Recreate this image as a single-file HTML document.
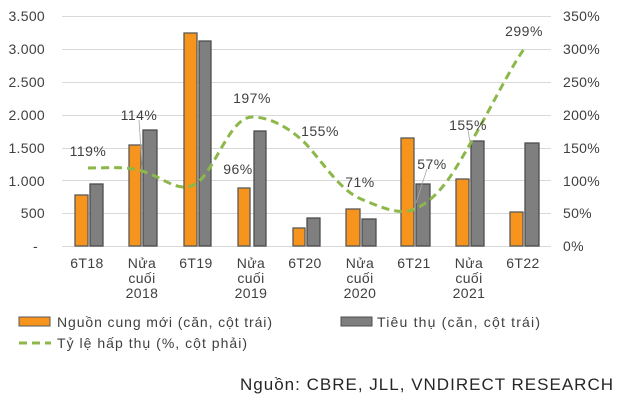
<!DOCTYPE html>
<html><head><meta charset="utf-8"><style>
html,body{margin:0;padding:0;background:#fff;}
svg{display:block;font-family:"Liberation Sans",Arial,sans-serif;}
</style></head><body>
<svg width="628" height="403" viewBox="0 0 628 403" xmlns="http://www.w3.org/2000/svg">
<g stroke="#d9d9d9" stroke-width="1">
<line x1="62" x2="551" y1="16.5" y2="16.5"/><line x1="62" x2="551" y1="49.5" y2="49.5"/>
<line x1="62" x2="551" y1="82.5" y2="82.5"/><line x1="62" x2="551" y1="115.5" y2="115.5"/>
<line x1="62" x2="551" y1="148.5" y2="148.5"/><line x1="62" x2="551" y1="180.5" y2="180.5"/>
<line x1="62" x2="551" y1="213.5" y2="213.5"/><line x1="62" x2="551" y1="246.5" y2="246.5"/>
</g>
<g font-size="14" fill="#404040" text-anchor="end" letter-spacing="0.3">
<text x="45" y="21">3.500</text><text x="45" y="54">3.000</text><text x="45" y="87">2.500</text>
<text x="45" y="120">2.000</text><text x="45" y="153">1.500</text><text x="45" y="186">1.000</text>
<text x="45" y="218">500</text><text x="38" y="251">-</text>
</g>
<g font-size="14" fill="#404040" text-anchor="start" letter-spacing="0.3">
<text x="563" y="21">350%</text><text x="563" y="54">300%</text><text x="563" y="87">250%</text>
<text x="563" y="120">200%</text><text x="563" y="153">150%</text><text x="563" y="186">100%</text>
<text x="563" y="218">50%</text><text x="563" y="251">0%</text>
</g>
<g fill="#f7941d" stroke="#595959" stroke-width="1.3">
<rect x="75" y="195" width="13" height="51"/><rect x="129" y="145" width="12" height="101"/>
<rect x="184" y="33" width="13" height="213"/><rect x="238" y="188" width="12" height="58"/>
<rect x="293" y="228" width="12" height="18"/><rect x="346" y="209" width="14" height="37"/>
<rect x="401" y="138" width="13" height="108"/><rect x="456" y="179" width="13" height="67"/>
<rect x="510" y="212" width="13" height="34"/>
</g>
<g fill="#7f7f7f" stroke="#4d4d4d" stroke-width="1.3">
<rect x="90" y="184" width="13" height="62"/><rect x="143" y="130" width="14" height="116"/>
<rect x="199" y="41" width="12" height="205"/><rect x="254" y="131" width="12" height="115"/>
<rect x="307" y="218" width="13" height="28"/><rect x="362" y="219" width="14" height="27"/>
<rect x="416" y="184" width="14" height="62"/><rect x="471" y="141" width="13" height="105"/>
<rect x="525" y="143" width="14" height="103"/>
</g>
<path d="M88,168 C110,168 125,166 142,171 C165,178 180,195 197,183 C215,170 230,117 252,117 C272,117 292,130 306,144 C325,165 340,190 361,199 C380,207 400,216 415,209 C440,198 455,170 470,144 C490,110 508,72 524,49" fill="none" stroke="#8cb84a" stroke-width="3" stroke-dasharray="8,5"/>
<g stroke="#a6a6a6" stroke-width="0.8">
<line x1="139" y1="120" x2="142" y2="165"/><line x1="427" y1="169" x2="416" y2="203"/><line x1="468" y1="130" x2="470" y2="142"/>
</g>
<g font-size="14" fill="#404040" text-anchor="middle" letter-spacing="0.5">
<text x="88" y="156">119%</text><text x="139" y="120">114%</text><text x="252" y="103">197%</text>
<text x="238" y="174">96%</text><text x="320" y="136">155%</text><text x="360" y="187">71%</text>
<text x="432" y="169">57%</text><text x="468" y="130">155%</text><text x="524" y="36">299%</text>
</g>
<g font-size="14" fill="#404040" text-anchor="middle" letter-spacing="0.4">
<text x="87" y="268">6T18</text>
<text x="142" y="268">Nửa</text><text x="142" y="283">cuối</text><text x="142" y="298">2018</text>
<text x="196" y="268">6T19</text>
<text x="251" y="268">Nửa</text><text x="251" y="283">cuối</text><text x="251" y="298">2019</text>
<text x="305" y="268">6T20</text>
<text x="360" y="268">Nửa</text><text x="360" y="283">cuối</text><text x="360" y="298">2020</text>
<text x="414" y="268">6T21</text>
<text x="469" y="268">Nửa</text><text x="469" y="283">cuối</text><text x="469" y="298">2021</text>
<text x="523" y="268">6T22</text>
</g>
<rect x="19" y="317" width="31" height="9" fill="#f7941d" stroke="#595959" stroke-width="1"/>
<text x="57" y="327" font-size="14" fill="#404040" textLength="215" lengthAdjust="spacing">Nguồn cung mới (căn, cột trái)</text>
<rect x="341" y="317" width="31" height="9" fill="#7f7f7f" stroke="#4d4d4d" stroke-width="1"/>
<text x="377" y="327" font-size="14" fill="#404040" textLength="163" lengthAdjust="spacing">Tiêu thụ (căn, cột trái)</text>
<line x1="19" y1="343" x2="51" y2="343" stroke="#8cb84a" stroke-width="3" stroke-dasharray="8,5"/>
<text x="57" y="348" font-size="14" fill="#404040" textLength="190" lengthAdjust="spacing">Tỷ lệ hấp thụ (%, cột phải)</text>
<text x="240" y="390" font-size="17" fill="#262626" textLength="373" lengthAdjust="spacing">Nguồn: CBRE, JLL, VNDIRECT RESEARCH</text>
</svg>
</body></html>
